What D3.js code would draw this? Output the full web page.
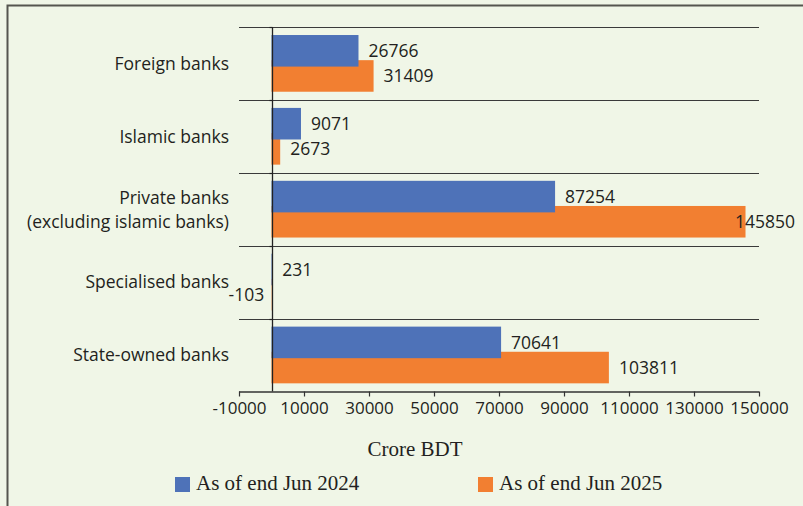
<!DOCTYPE html>
<html>
<head>
<meta charset="utf-8">
<script src="https://cdn.jsdelivr.net/npm/d3@7"></script>
<style>
  html, body { margin: 0; padding: 0; background: #F0F6E7; }
  svg { display: block; }
</style>
</head>
<body>
<svg id="chart" width="803" height="506"></svg>
<script>
// Bank categories (top to bottom) and the two reporting dates
const categories = [
  ["Foreign banks"],
  ["Islamic banks"],
  ["Private banks", "(excluding islamic banks)"],
  ["Specialised banks"],
  ["State-owned banks"]
];
const seriesNames = ["As of end Jun 2024", "As of end Jun 2025"];
const values2024 = [26766, 9071, 87254, 231, 70641];
const values2025 = [31409, 2673, 145850, -103, 103811];
const tickValues = [-10000, 10000, 30000, 50000, 70000, 90000, 110000, 130000, 150000];
const axisTitle = "Crore BDT";
const colors = ["#4E72B8", "#F27F31"];

const svg = d3.select("#chart");
const W = 803, H = 506;
const sans = "'Open Sans', sans-serif";
const serif = "'Liberation Serif', serif";
const ink = "#231F20";
// plain integers with an ASCII hyphen for negatives
const fmt = v => String(Math.round(v));

// frame of the panel
svg.append("rect").attr("width", W).attr("height", H).attr("fill", "#F0F6E7");
svg.append("path")
  .attr("d", `M7.5,${H} V5.5 H${W}`)
  .attr("fill", "none").attr("stroke", "#55554f").attr("stroke-width", 2);

const plot = { left: 239, right: 759, top: 27, bottom: 391.5 };

const x = d3.scaleLinear().domain([-10000, 150000]).range([plot.left, plot.right]);
const keys = categories.map((c, i) => i);
const y = d3.scaleBand().domain(keys).range([plot.top, plot.bottom]).padding(0);
const band = y.bandwidth();
const barH = band * 0.433;
const barOffset = [band * 0.11, band * 0.455];

// horizontal separators between categories
svg.append("g").selectAll("line")
  .data(keys)
  .join("line")
  .attr("x1", plot.left).attr("x2", plot.right)
  .attr("y1", d => Math.round(y(d)) + 0.5).attr("y2", d => Math.round(y(d)) + 0.5)
  .attr("stroke", "#3a3a3a").attr("stroke-width", 1.2);

// bars: later series drawn first so the earlier one sits on top
const rows = keys.map(i => ({ i, vals: [values2024[i], values2025[i]] }));
[1, 0].forEach(s => {
  svg.append("g").selectAll("rect")
    .data(rows)
    .join("rect")
    .attr("x", d => x(Math.min(0, d.vals[s])))
    .attr("width", d => Math.abs(x(d.vals[s]) - x(0)))
    .attr("y", d => y(d.i) + barOffset[s])
    .attr("height", barH)
    .attr("fill", colors[s]);
});

// zero line with small ticks at category boundaries
const zx = Math.round(x(0)) + 0.5;
svg.append("line")
  .attr("x1", zx).attr("x2", zx).attr("y1", plot.top).attr("y2", plot.bottom)
  .attr("stroke", "#222").attr("stroke-width", 1.3);
svg.append("g").selectAll("line")
  .data(keys)
  .join("line")
  .attr("x1", zx - 3).attr("x2", zx)
  .attr("y1", d => Math.round(y(d)) + 0.5).attr("y2", d => Math.round(y(d)) + 0.5)
  .attr("stroke", "#222").attr("stroke-width", 1.2);

// value labels
const labelRight = 795;
[0, 1].forEach(s => {
  const g = svg.append("g");
  rows.forEach(d => {
    const v = d.vals[s];
    const cy = y(d.i) + barOffset[s] + barH / 2;
    const t = g.append("text")
      .attr("y", cy).attr("dy", "0.36em")
      .attr("font-family", sans).attr("font-size", 17.5).attr("fill", ink)
      .text(fmt(v));
    if (v < 0) {
      t.attr("x", x(v) - 7).attr("text-anchor", "end");
    } else {
      let lx = x(v) + 10;
      const w = t.node().getComputedTextLength();
      if (lx + w > labelRight) lx = labelRight - w;
      t.attr("x", lx);
    }
  });
});

// category labels
const catG = svg.append("g");
categories.forEach((lines, i) => {
  const cy = y(i) + band / 2;
  const lh = 24;
  lines.forEach((ln, j) => {
    catG.append("text")
      .attr("x", 229)
      .attr("y", cy + (j - (lines.length - 1) / 2) * lh)
      .attr("dy", "0.36em")
      .attr("text-anchor", "end")
      .attr("font-family", sans).attr("font-size", 17.5).attr("fill", ink)
      .text(ln);
  });
});

// x axis
const xAxis = d3.axisBottom(x).tickValues(tickValues).tickSize(5).tickSizeOuter(0)
  .tickFormat(fmt);
const ax = svg.append("g").attr("transform", `translate(0,${plot.bottom})`).call(xAxis);
ax.select(".domain").attr("stroke", "#333").attr("stroke-width", 1.3)
  .attr("d", `M${plot.left},0.5H${plot.right}`);
ax.selectAll(".tick line").attr("stroke", "#333").attr("stroke-width", 1.2);
ax.selectAll(".tick text")
  .attr("font-family", sans).attr("font-size", 17).attr("fill", ink)
  .attr("y", 10).attr("dy", "0.71em");

// axis title
svg.append("text")
  .attr("x", 415).attr("y", 456)
  .attr("text-anchor", "middle")
  .attr("font-family", serif).attr("font-size", 21).attr("fill", ink)
  .text(axisTitle);

// legend
const legendX = [175, 478];
seriesNames.forEach((name, s) => {
  const g = svg.append("g").attr("transform", `translate(${legendX[s]},477)`);
  g.append("rect").attr("width", 15).attr("height", 15).attr("fill", colors[s]);
  g.append("text")
    .attr("x", 21).attr("y", 12.5)
    .attr("font-family", serif).attr("font-size", 21).attr("fill", ink)
    .text(name);
});
</script>
</body>
</html>
